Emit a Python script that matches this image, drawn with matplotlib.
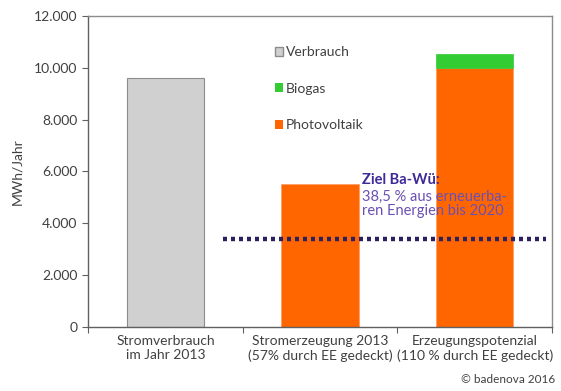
import matplotlib.pyplot as plt
from matplotlib.patches import Patch
from matplotlib.ticker import FuncFormatter

# data
categories = ["Stromverbrauch\nim Jahr 2013",
              "Stromerzeugung 2013\n(57% durch EE gedeckt)",
              "Erzeugungspotenzial\n(110 % durch EE gedeckt)"]
verbrauch = [9600, 0, 0]
photovoltaik = [0, 5500, 10000]
biogas = [0, 0, 520]
ziel = 3400

plt.rcParams['font.family'] = ['Lato', 'DejaVu Sans']
txt = '#404040'

fig = plt.figure(figsize=(5.61, 3.91), dpi=100)
ax = fig.add_axes([0.157, 0.164, 0.827, 0.795])

x = list(range(len(categories)))
# only draw the segments that are there, so empty ones leave no edge line
def seg(vals):
    return [i for i in x if vals[i] > 0], [v for v in vals if v > 0]

xi, v = seg(verbrauch)
ax.bar(xi, v, width=0.5, color='#d0d0d0', edgecolor='#8c8c8c', linewidth=0.8)
xi, v = seg(photovoltaik)
ax.bar(xi, v, width=0.5, color='#ff6600', edgecolor='#ff9a66', linewidth=0.5)
xi, v = seg(biogas)
ax.bar(xi, v, width=0.5, bottom=[photovoltaik[i] for i in xi], color='#33cc33',
       edgecolor='#33cc33', linewidth=0.5)

# target line
ax.plot([0.37, 2.46], [ziel, ziel], color='#2b2160', linewidth=3.2,
        linestyle=(0, (0.9, 0.9)), solid_capstyle='butt')
ax.text(1.27, 5670, "Ziel Ba-Wü:", color='#3f2a98', fontsize=10.5, fontweight='bold',
        va='center', ha='left')
ax.text(1.27, 4750, "38,5 % aus erneuerba-\nren Energien bis 2020", color='#6a50b4',
        fontsize=10.5, va='center', ha='left', linespacing=1.05)

ax.set_xlim(-0.5, 2.5)
ax.set_ylim(0, 12000)
ax.set_yticks(range(0, 12001, 2000))
ax.yaxis.set_major_formatter(FuncFormatter(lambda v, p: f"{int(v):,}".replace(",", ".")))
ax.set_ylabel("MWh/Jahr", color=txt, fontsize=10, labelpad=8)

ax.set_xticks([-0.5, 0.5, 1.5, 2.5])
ax.set_xticklabels([])
ax.set_xticks(x, minor=True)
ax.set_xticklabels(categories, minor=True, fontsize=10, color=txt, linespacing=1.2)
ax.tick_params(axis='x', which='minor', length=0, pad=6)
ax.tick_params(axis='x', which='major', length=4, direction='out', color='#606060')
ax.tick_params(axis='y', length=4, direction='out', color='#606060', labelsize=10, labelcolor=txt)

for s in ax.spines.values():
    s.set_color('#8c8c8c')
    s.set_linewidth(1.0)
ax.spines['left'].set_color('#606060')
ax.spines['bottom'].set_color('#606060')

handles = [Patch(facecolor='#d0d0d0', edgecolor='#8c8c8c', label='Verbrauch'),
           Patch(facecolor='#33cc33', label='Biogas'),
           Patch(facecolor='#ff6600', label='Photovoltaik')]
leg = ax.legend(handles=handles, loc='upper left', bbox_to_anchor=(0.39, 0.92),
                frameon=False, fontsize=10, handlelength=0.6, handleheight=0.6,
                handletextpad=0.2, labelspacing=1.75, borderaxespad=0)
for t in leg.get_texts():
    t.set_color(txt)

fig.text(0.99, 0.015, "© badenova 2016", ha='right', va='bottom', fontsize=8.5, color=txt)

fig.savefig("out.png", dpi=100)
